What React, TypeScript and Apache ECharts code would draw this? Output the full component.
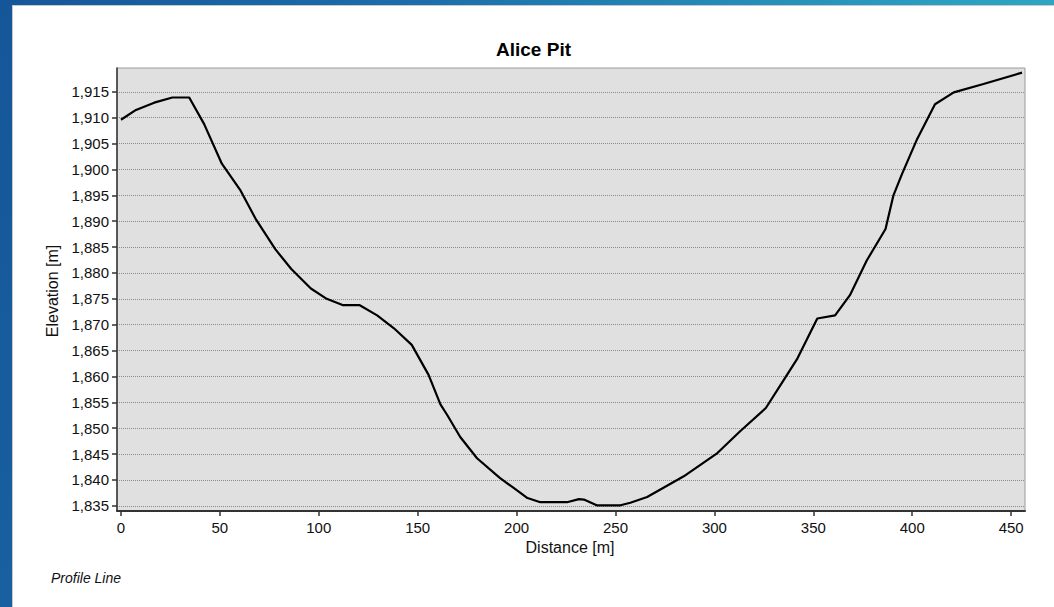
import React, { useEffect, useRef } from "react";
import * as echarts from "echarts";

const distances = [
  0, 7.6, 16.8, 26, 34.5, 42, 51, 60.5, 68, 78, 86, 96, 104, 112, 120.5, 129.5,
  138, 147, 155.5, 161.5, 165, 171.5, 180, 191.5, 198, 205.5, 212, 225.5, 231.5,
  234, 240.5, 252.5, 257.5, 266, 284.5, 301.5, 313, 326, 335, 342, 352, 361,
  368.5, 377, 386.5, 390.5, 394.8, 402.5, 411.5, 421, 436, 455.5,
];
const elevations = [
  1909.6, 1911.5, 1912.9, 1913.9, 1913.9, 1908.8, 1901.1, 1895.9, 1890.5, 1884.6,
  1880.8, 1877.0, 1875.0, 1873.8, 1873.8, 1871.8, 1869.3, 1866.1, 1860.3, 1854.6,
  1852.5, 1848.3, 1844.2, 1840.4, 1838.6, 1836.5, 1835.7, 1835.7, 1836.3, 1836.2,
  1835.1, 1835.1, 1835.6, 1836.7, 1840.7, 1845.2, 1849.4, 1853.9, 1859.3, 1863.5,
  1871.2, 1871.8, 1875.7, 1882.4, 1888.5, 1895.0, 1899.1, 1905.9, 1912.6, 1914.9,
  1916.5, 1918.7,
];
const yTicks = [
  1835, 1840, 1845, 1850, 1855, 1860, 1865, 1870, 1875, 1880, 1885, 1890, 1895,
  1900, 1905, 1910, 1915,
];
const xTicks = [0, 50, 100, 150, 200, 250, 300, 350, 400, 450];

const titleText = "Alice Pit";
const yName = "Elevation [m]";
const xName = "Distance [m]";
const footerText = "Profile Line";

const FONT = "'Liberation Sans', Arial, sans-serif";

export default function App() {
  const ref = useRef<HTMLDivElement>(null);

  useEffect(() => {
    if (!ref.current) return;
    const chart = echarts.init(ref.current, null, { renderer: "svg" });
    const fmt = (v: number) => Math.round(v).toLocaleString("en-US");
    chart.setOption({
      animation: false,
      backgroundColor: "#ffffff",
      title: {
        text: titleText,
        left: "center",
        top: 29,
        textStyle: { fontFamily: FONT, fontSize: 19, fontWeight: "bold", color: "#000" },
      },
      grid: {
        left: 104,
        top: 62,
        right: 29,
        bottom: 96,
        show: true,
        backgroundColor: "#e0e0e0",
        borderColor: "#9a9a9a",
        borderWidth: 1,
      },
      xAxis: {
        type: "value",
        min: -2,
        max: 457,
        axisLine: { show: true, onZero: false, lineStyle: { color: "#333", width: 2 } },
        axisTick: { show: true, length: 5, customValues: xTicks, lineStyle: { color: "#333", width: 1.5 } },
        axisLabel: {
          customValues: xTicks,
          fontFamily: FONT,
          fontSize: 15,
          color: "#111",
          margin: 9,
          formatter: fmt,
        },
        splitLine: { show: false },
      },
      yAxis: {
        type: "value",
        min: 1834,
        max: 1919.6,
        axisLine: { show: true, onZero: false, lineStyle: { color: "#333", width: 1.5 } },
        axisTick: { show: true, length: 5, customValues: yTicks, lineStyle: { color: "#333", width: 1.5 } },
        axisLabel: {
          customValues: yTicks,
          fontFamily: FONT,
          fontSize: 15,
          color: "#111",
          margin: 8,
          formatter: fmt,
        },
        splitLine: { show: true, lineStyle: { type: "dotted", color: "#8c8c8c", width: 1 } },
      },
      series: [
        {
          type: "line",
          data: distances.map((d, i) => [d, elevations[i]]),
          showSymbol: false,
          symbol: "none",
          lineStyle: { color: "#000", width: 2.2 },
          clip: true,
        },
      ],
      graphic: [
        {
          type: "text",
          x: 39,
          y: 285,
          rotation: Math.PI / 2,
          style: {
            text: yName,
            fontFamily: FONT,
            fontSize: 16,
            fill: "#111",
            align: "center",
            verticalAlign: "middle",
          },
        },
        {
          type: "text",
          x: 557,
          y: 541,
          style: {
            text: xName,
            fontFamily: FONT,
            fontSize: 16,
            fill: "#111",
            align: "center",
            verticalAlign: "middle",
          },
        },
        {
          type: "text",
          x: 38,
          y: 572,
          style: {
            text: footerText,
            fontFamily: FONT,
            fontSize: 14,
            fontStyle: "italic",
            fill: "#111",
            align: "left",
            verticalAlign: "middle",
          },
        },
      ],
    });
    return () => chart.dispose();
  }, []);

  return (
    <div
      style={{
        position: "fixed",
        left: 0,
        top: 0,
        width: 1054,
        height: 607,
        background: "linear-gradient(105deg, #155699 0%, #1c6fab 35%, #2a9cc0 75%, #32b0c8 100%)",
        overflow: "hidden",
      }}
    >
      <div
        style={{
          position: "absolute",
          left: 12,
          top: 5,
          width: 1042,
          height: 602,
          background: "#fff",
          borderTop: "1px solid #c8c8c8",
          borderLeft: "1px solid #c8c8c8",
          boxSizing: "border-box",
        }}
      >
        <div ref={ref} style={{ width: 1041, height: 601 }} />
      </div>
    </div>
  );
}
